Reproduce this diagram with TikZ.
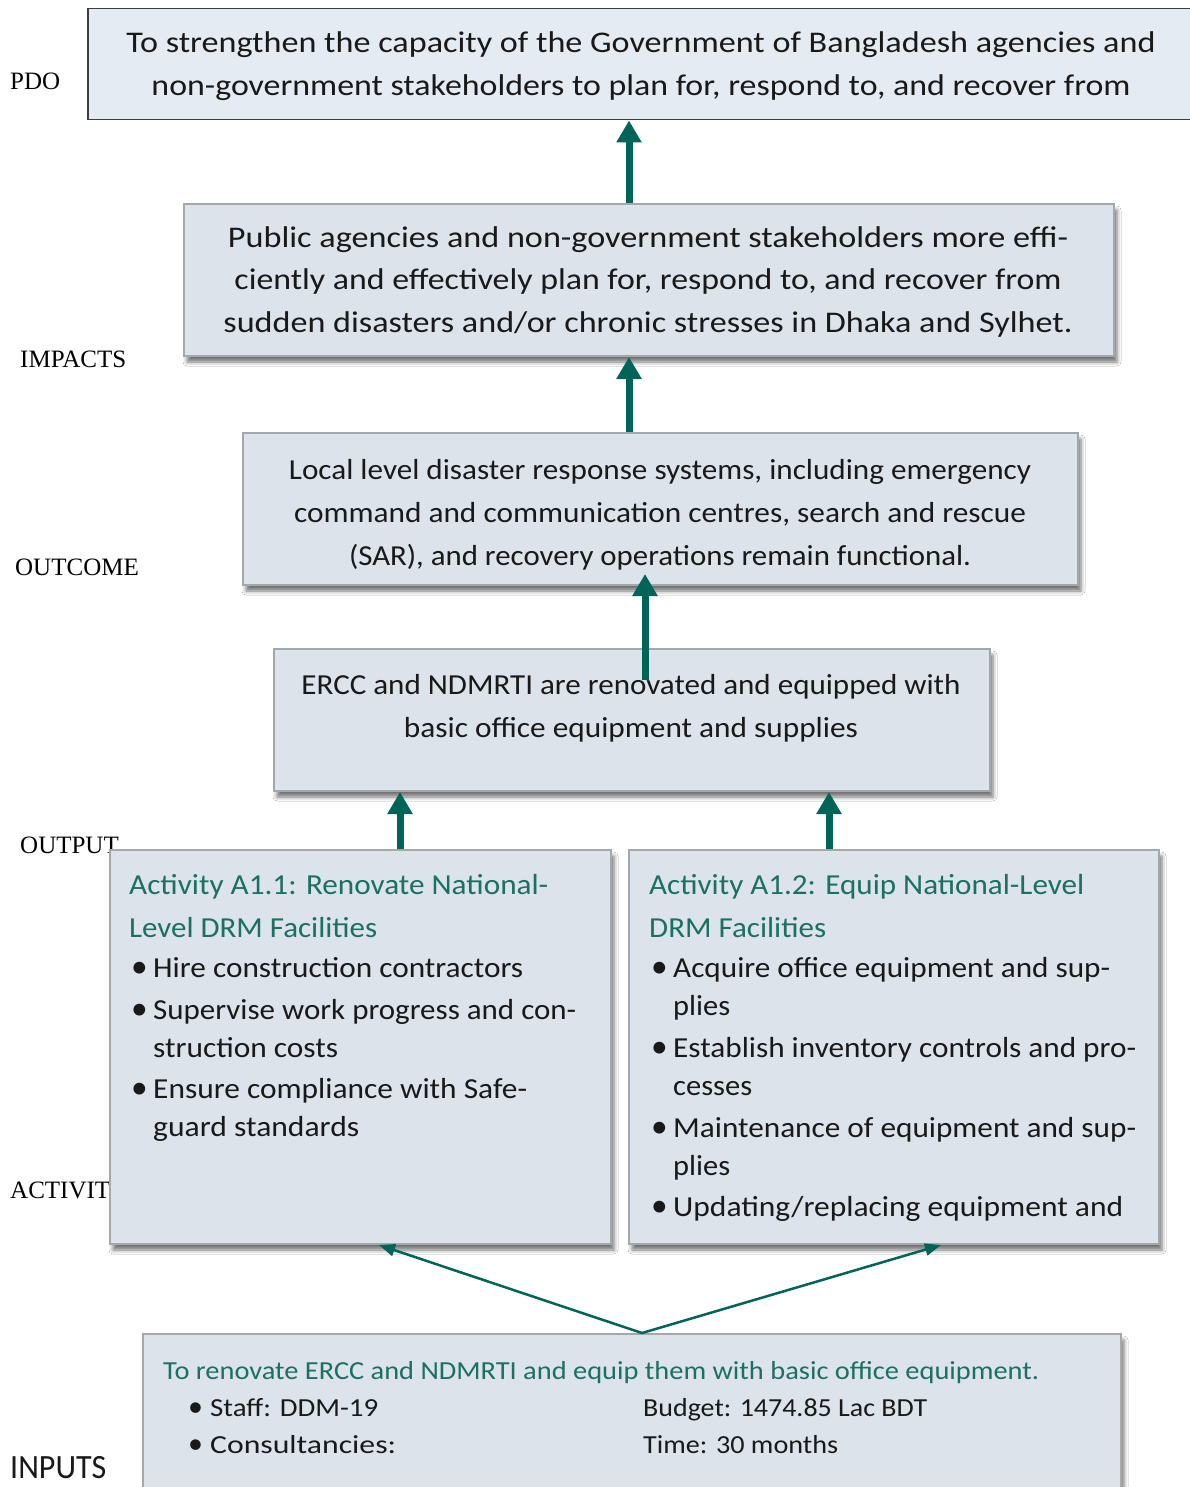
\documentclass[tikz,border=0pt]{standalone}
\usepackage{fontspec}
\usepackage{graphicx}
\setmainfont{Carlito}
\newfontfamily\labelfont{Liberation Serif}
\usetikzlibrary{arrows.meta,calc,shadows.blur}

\definecolor{arrowteal}{RGB}{0,101,88}
\definecolor{headteal}{RGB}{27,112,99}
\definecolor{boxfill}{RGB}{220,227,235}
\definecolor{pdofill}{RGB}{229,235,242}
\definecolor{boxline}{RGB}{163,168,173}
\definecolor{pdoline}{RGB}{60,60,60}
\definecolor{bodytext}{RGB}{25,25,25}

% set a line of text to a fixed width, keeping its height
\newcommand\fitw[2]{\resizebox{#1pt}{\height}{#2}}
\newcommand\bigbullet{\scalebox{1.15}{\textbullet}}
\newcommand\bul{\makebox[24pt][l]{\hspace{2pt}\bigbullet}}
\newcommand\ind{\hspace*{24pt}}
\newcommand\ibul{\makebox[17pt][l]{\hspace{-5pt}\bigbullet}}

\begin{document}
\begin{tikzpicture}[x=1pt,y=-1pt,
  levelbox/.style={draw=boxline, line width=2pt, fill=boxfill, anchor=north west,
    inner sep=0pt, blur shadow={shadow xshift=3pt, shadow yshift=-6pt,
    shadow blur radius=4pt, shadow opacity=55}},
  pdobox/.style={draw=pdoline, line width=1.5pt, fill=pdofill, anchor=north west, inner sep=0pt},
  boxtext/.style={inner sep=0pt, align=center, text=bodytext},
  listtext/.style={inner sep=0pt, align=left, text=bodytext, anchor=north west},
  lbl/.style={inner sep=0pt, anchor=west, font=\labelfont\fontsize{25}{25}\selectfont},
  thickarrow/.style={draw=arrowteal, line width=7pt, -{Triangle[width=24pt,length=22pt]}},
  thinarrow/.style={draw=arrowteal, line width=2.5pt, -{Triangle[width=12pt,length=16pt]}}
]
\useasboundingbox[fill=white] (0,0) rectangle (1190,1487);

% level labels on the left
\node[lbl] (lpdo) at (10,81) {PDO};
\node[lbl] (limp) at (20,359) {IMPACTS};
\node[lbl] (lout) at (15,567) {OUTCOME};
\node[lbl] (loutp) at (20,845) {OUTPUT};
\node[lbl] (lact) at (10,1190) {ACTIVITY};
\node[inner sep=0pt, anchor=west, font=\fontsize{34}{34}\selectfont, text=bodytext] (linp) at (10,1468) {\fitw{96}{INPUTS}};

% boxes
\node[pdobox, minimum width=1130pt, minimum height=111pt] (pdo) at (87,8) {};
\node[levelbox, minimum width=930pt, minimum height=152pt] (impact) at (183,203) {};
\node[levelbox, minimum width=835pt, minimum height=152pt] (outcome) at (242,432) {};
\node[levelbox, minimum width=716pt, minimum height=142pt] (output) at (273,648) {};
\node[levelbox, minimum width=501pt, minimum height=394pt] (act1) at (109,849) {};
\node[levelbox, minimum width=530pt, minimum height=394pt] (act2) at (628,849) {};
\node[levelbox, minimum width=978pt, minimum height=170pt] (input) at (142,1333) {};

% box texts
\node[boxtext, font=\fontsize{30}{43}\selectfont] (pdotext) at (641,66)
  {\fitw{1029}{To strengthen the capacity of the Government of Bangladesh agencies and}\\
   \fitw{979}{non-government stakeholders to plan for, respond to, and recover from}};
\node[boxtext, font=\fontsize{30}{42.5}\selectfont] (imptext) at (648,282)
  {\fitw{840}{Public agencies and non-government stakeholders more effi-}\\
   \fitw{827}{ciently and effectively plan for, respond to, and recover from}\\
   \fitw{849}{sudden disasters and/or chronic stresses in Dhaka and Sylhet.}};
\node[boxtext, font=\fontsize{29}{43}\selectfont] (outctext) at (660,514.5)
  {\fitw{742}{Local level disaster response systems, including emergency}\\
   \fitw{732}{command and communication centres, search and rescue}\\
   \fitw{622}{(SAR), and recovery operations remain functional.}};
\node[boxtext, font=\fontsize{29}{43}\selectfont] (outptext) at (631,708)
  {\fitw{659}{ERCC and NDMRTI are renovated and equipped with}\\
   \fitw{454}{basic office equipment and supplies}};

\node[listtext, font=\fontsize{29}{38}\selectfont] (act1text) at (129,874)
  {\textcolor{headteal}{\fitw{419}{Activity A1.1: Renovate National-}}\\[5pt]
   \textcolor{headteal}{\fitw{248}{Level DRM Facilities}}\\[2pt]
   \bul\fitw{370}{Hire construction contractors}\\[4pt]
   \bul\fitw{423}{Supervise work progress and con-}\\
   \ind\fitw{185}{struction costs}\\[3.5pt]
   \bul\fitw{374}{Ensure compliance with Safe-}\\
   \ind\fitw{206}{guard standards}};
\node[listtext, font=\fontsize{29}{38}\selectfont] (act2text) at (649,874)
  {\textcolor{headteal}{\fitw{435}{Activity A1.2: Equip National-Level}}\\[5pt]
   \textcolor{headteal}{\fitw{177}{DRM Facilities}}\\[2pt]
   \bul\fitw{437}{Acquire office equipment and sup-}\\
   \ind\fitw{57}{plies}\\[4pt]
   \bul\fitw{463}{Establish inventory controls and pro-}\\
   \ind\fitw{79}{cesses}\\[4pt]
   \bul\fitw{463}{Maintenance of equipment and sup-}\\
   \ind\fitw{57}{plies}\\[3.5pt]
   \bul\fitw{450}{Updating/replacing equipment and}};

\node[listtext, font=\fontsize{26}{37}\selectfont, text=headteal] (inhead) at (163,1361)
  {\fitw{876}{To renovate ERCC and NDMRTI and equip them with basic office equipment.}};
\node[listtext, font=\fontsize{26}{37}\selectfont] (inleft) at (193,1398)
  {\ibul\fitw{168}{Staff: DDM-19}\\
   \ibul\fitw{186}{Consultancies:}};
\node[listtext, font=\fontsize{26}{37}\selectfont] (inright) at (643,1398)
  {\fitw{284}{Budget: 1474.85 Lac BDT}\\
   \fitw{195}{Time: 30 months}};

% connectors between levels
\draw[thickarrow] ([xshift=-20pt]impact.north) -- ([xshift=-20pt]impact.north |- pdo.south);
\draw[thickarrow] ([xshift=-31.5pt]outcome.north) -- ([xshift=-31.5pt]outcome.north |- impact.south);
\coordinate (upstart) at ($(output.north)+(13,32)$);
\coordinate (upend) at ($(upstart |- outcome.south)+(0,-12)$);
\draw[thickarrow] (upstart) -- (upend);
\draw[thickarrow] ([xshift=39.5pt]act1.north) -- ([xshift=39.5pt]act1.north |- output.south);
\draw[thickarrow] ([xshift=-65pt]act2.north) -- ([xshift=-65pt]act2.north |- output.south);
\coordinate (fork) at ([xshift=10pt]input.north);
\draw[thinarrow] (fork) -- ([xshift=18.5pt]act1.south);
\draw[thinarrow] (fork) -- ([xshift=47pt]act2.south);
\end{tikzpicture}
\end{document}
